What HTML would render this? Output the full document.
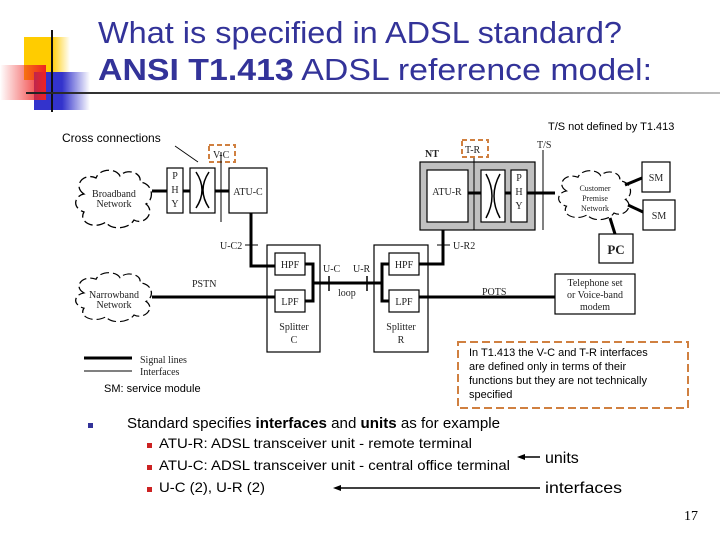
<!DOCTYPE html>
<html><head><meta charset="utf-8"><style>
body{margin:0;background:#fff;width:720px;height:540px;overflow:hidden}
svg{display:block}
.s{font-family:"Liberation Serif",serif;font-size:10px;fill:#222}
.a{font-family:"Liberation Sans",sans-serif}
</style></head><body>
<svg width="720" height="540" viewBox="0 0 720 540">
<defs>
<linearGradient id="gy" x1="0" x2="1"><stop offset="0.6" stop-color="#ffcc00"/><stop offset="1" stop-color="#ffcc00" stop-opacity="0"/></linearGradient>
<linearGradient id="gb" x1="0" x2="1"><stop offset="0.5" stop-color="#3333cc"/><stop offset="1" stop-color="#3333cc" stop-opacity="0"/></linearGradient>
<linearGradient id="gr" x1="1" x2="0"><stop offset="0" stop-color="#ee2222"/><stop offset="1" stop-color="#ee2222" stop-opacity="0"/></linearGradient>
<linearGradient id="gl" x1="0" x2="1"><stop offset="0" stop-color="#222"/><stop offset="1" stop-color="#bbb"/></linearGradient>
<g id="cloud"><path d="M-30,-6 C-42,-14 -30,-28 -18,-22 C-14,-32 2,-32 6,-24 C12,-32 28,-28 26,-18 C40,-16 40,0 32,4 C42,12 30,26 20,20 C14,30 -4,30 -8,22 C-20,30 -36,22 -30,12 C-42,8 -40,-4 -30,-6 Z" fill="#fff" stroke="#000" stroke-width="1.3" stroke-dasharray="9 4"/></g>
</defs>
<rect x="24" y="37" width="46" height="43" fill="url(#gy)"/>
<rect x="34" y="72" width="56" height="38" fill="url(#gb)"/>
<rect x="0" y="65" width="46" height="35" fill="url(#gr)"/>
<line x1="52" y1="30" x2="52" y2="112" stroke="#111" stroke-width="2"/>
<rect x="26" y="92" width="694" height="2" fill="url(#gl)"/>
<text x="98" y="43" class="a" font-size="31" fill="#333399" textLength="524" lengthAdjust="spacingAndGlyphs">What is specified in ADSL standard?</text>
<text x="98" y="80" class="a" font-size="31" fill="#333399" textLength="554" lengthAdjust="spacingAndGlyphs"><tspan font-weight="bold">ANSI T1.413</tspan> ADSL reference model:</text>

<text x="62" y="142" class="a" font-size="12">Cross connections</text>
<line x1="175" y1="146" x2="198" y2="162" stroke="#000" stroke-width="0.8"/>
<text x="548" y="130" class="a" font-size="11">T/S not defined by T1.413</text>
<rect x="209" y="145" width="26" height="17" fill="none" stroke="#d08040" stroke-width="2" stroke-dasharray="5 3"/>
<text x="213" y="158" class="s">V-C</text>

<use href="#cloud" transform="translate(114,200)"/>
<text x="114" y="197" class="s" font-size="8" text-anchor="middle">Broadband</text>
<text x="114" y="207" class="s" font-size="8" text-anchor="middle">Network</text>
<use href="#cloud" transform="translate(114,298) scale(1,0.85)"/>
<text x="114" y="298" class="s" font-size="8" text-anchor="middle">Narrowband</text>
<text x="114" y="308" class="s" font-size="8" text-anchor="middle">Network</text>

<g fill="none" stroke="#000" stroke-width="1.2">
<rect x="167" y="168" width="16" height="45"/>
<rect x="190" y="168" width="25" height="45"/>
<rect x="229" y="168" width="38" height="45"/>
<rect x="267" y="245" width="53" height="107"/>
<rect x="275" y="253" width="30" height="22"/>
<rect x="275" y="290" width="30" height="22"/>
<rect x="374" y="245" width="54" height="107"/>
<rect x="389" y="253" width="30" height="22"/>
<rect x="389" y="290" width="30" height="22"/>
<rect x="642" y="162" width="28" height="30"/>
<rect x="643" y="200" width="32" height="30"/>
<rect x="599" y="234" width="34" height="29"/>
<rect x="555" y="274" width="80" height="40"/>
</g>
<rect x="420" y="162" width="115" height="68" fill="#c0c0c0" stroke="#000" stroke-width="1.2"/>
<rect x="427" y="170" width="41" height="52" fill="#fff" stroke="#000" stroke-width="1.2"/>
<rect x="481" y="170" width="24" height="52" fill="#fff" stroke="#000" stroke-width="1.2"/>
<rect x="511" y="170" width="16" height="52" fill="#fff" stroke="#000" stroke-width="1.2"/>
<use href="#cloud" transform="translate(595,196) scale(0.95,0.85)"/>

<path d="M196,172 Q208,190 196,208 M209,172 Q197,190 209,208" fill="none" stroke="#000" stroke-width="1.5"/>
<path d="M486,174 Q498,196 486,218 M500,174 Q488,196 500,218" fill="none" stroke="#000" stroke-width="1.5"/>

<g stroke="#000" stroke-width="3" fill="none">
<path d="M152,191 H167 M183,191 H190 M215,191 H229"/>
<path d="M251,213 V266 H275"/>
<path d="M305,264 H313 V301 H305"/>
<path d="M313,283 H382"/>
<path d="M389,264 H382 V301 H389"/>
<path d="M419,264 H443 V230"/>
<path d="M152,297 H275"/>
<path d="M419,297 H555"/>
<path d="M527,193 H555"/>
<path d="M625,185 L642,178 M628,205 L643,212 M610,218 L615,234"/>
<path d="M468,193 H481 M505,193 H511"/>
</g>
<g stroke="#000" stroke-width="1">
<line x1="221" y1="152" x2="221" y2="222"/>
<line x1="474" y1="152" x2="474" y2="230"/>
<line x1="543" y1="150" x2="543" y2="230"/>
<line x1="245" y1="245" x2="258" y2="245"/>
<line x1="437" y1="245" x2="450" y2="245"/>
<line x1="329" y1="276" x2="329" y2="291" stroke-width="1.5"/>
<line x1="367" y1="276" x2="367" y2="291" stroke-width="1.5"/>
</g>
<rect x="462" y="140" width="26" height="17" fill="#fff" stroke="#d08040" stroke-width="2" stroke-dasharray="5 3"/>
<text x="465" y="153" class="s">T-R</text>
<text x="425" y="157" class="s" font-weight="bold">NT</text>
<text x="537" y="148" class="s" font-size="8">T/S</text>

<g class="s">
<text x="175" y="179" text-anchor="middle">P</text><text x="175" y="193" text-anchor="middle">H</text><text x="175" y="207" text-anchor="middle">Y</text>
<text x="248" y="195" text-anchor="middle">ATU-C</text>
<text x="447" y="195" text-anchor="middle">ATU-R</text>
<text x="519" y="181" text-anchor="middle">P</text><text x="519" y="195" text-anchor="middle">H</text><text x="519" y="209" text-anchor="middle">Y</text>
<text x="220" y="249">U-C2</text>
<text x="453" y="249">U-R2</text>
<text x="290" y="268" text-anchor="middle">HPF</text>
<text x="290" y="305" text-anchor="middle">LPF</text>
<text x="404" y="268" text-anchor="middle">HPF</text>
<text x="404" y="305" text-anchor="middle">LPF</text>
<text x="294" y="330" text-anchor="middle">Splitter</text><text x="294" y="343" text-anchor="middle">C</text>
<text x="401" y="330" text-anchor="middle">Splitter</text><text x="401" y="343" text-anchor="middle">R</text>
<text x="323" y="272">U-C</text><text x="353" y="272">U-R</text>
<text x="338" y="296">loop</text>
<text x="192" y="287">PSTN</text>
<text x="482" y="295">POTS</text>
<text x="656" y="181" text-anchor="middle">SM</text>
<text x="659" y="219" text-anchor="middle">SM</text>
<text x="616" y="254" text-anchor="middle" font-size="13" font-weight="bold">PC</text>
<text x="595" y="286" text-anchor="middle">Telephone set</text>
<text x="595" y="298" text-anchor="middle">or Voice-band</text>
<text x="595" y="310" text-anchor="middle">modem</text>
<text x="595" y="191" text-anchor="middle" font-size="8">Customer</text>
<text x="595" y="201" text-anchor="middle" font-size="8">Premise</text>
<text x="595" y="211" text-anchor="middle" font-size="8">Network</text>
<text x="140" y="363">Signal lines</text>
<text x="140" y="375">Interfaces</text>
</g>
<line x1="84" y1="358" x2="132" y2="358" stroke="#000" stroke-width="3"/>
<line x1="84" y1="371" x2="132" y2="371" stroke="#000" stroke-width="1"/>
<text x="104" y="392" class="a" font-size="11">SM: service module</text>

<rect x="458" y="342" width="230" height="66" fill="none" stroke="#d08040" stroke-width="2" stroke-dasharray="8 4"/>
<g class="a" font-size="11">
<text x="469" y="356">In T1.413 the V-C and T-R interfaces</text>
<text x="469" y="370">are defined only in terms of their</text>
<text x="469" y="384">functions but they are not technically</text>
<text x="469" y="398">specified</text>
</g>

<rect x="88" y="423" width="5" height="5" fill="#333399"/>
<text x="127" y="428" class="a" font-size="15" textLength="373" lengthAdjust="spacingAndGlyphs">Standard specifies <tspan font-weight="bold">interfaces</tspan> and <tspan font-weight="bold">units</tspan> as for example</text>
<rect x="147" y="443" width="5" height="5" fill="#cc2222"/>
<rect x="147" y="465" width="5" height="5" fill="#cc2222"/>
<rect x="147" y="487" width="5" height="5" fill="#cc2222"/>
<text x="159" y="448" class="a" font-size="14" textLength="313" lengthAdjust="spacingAndGlyphs">ATU-R: ADSL transceiver unit - remote terminal</text>
<text x="159" y="470" class="a" font-size="14" textLength="351" lengthAdjust="spacingAndGlyphs">ATU-C: ADSL transceiver unit - central office terminal</text>
<text x="159" y="492" class="a" font-size="14" textLength="106" lengthAdjust="spacingAndGlyphs">U-C (2), U-R (2)</text>
<text x="545" y="463" class="a" font-size="16">units</text>
<text x="545" y="493" class="a" font-size="16" textLength="77" lengthAdjust="spacingAndGlyphs">interfaces</text>
<line x1="522" y1="457" x2="540" y2="457" stroke="#000" stroke-width="1.5"/>
<path d="M517,457 L525,454 L525,460 Z"/>
<line x1="338" y1="488" x2="540" y2="488" stroke="#000" stroke-width="1.5"/>
<path d="M333,488 L341,485 L341,491 Z"/>
<text x="684" y="520" font-family="Liberation Serif,serif" font-size="14">17</text>
</svg>
</body></html>
